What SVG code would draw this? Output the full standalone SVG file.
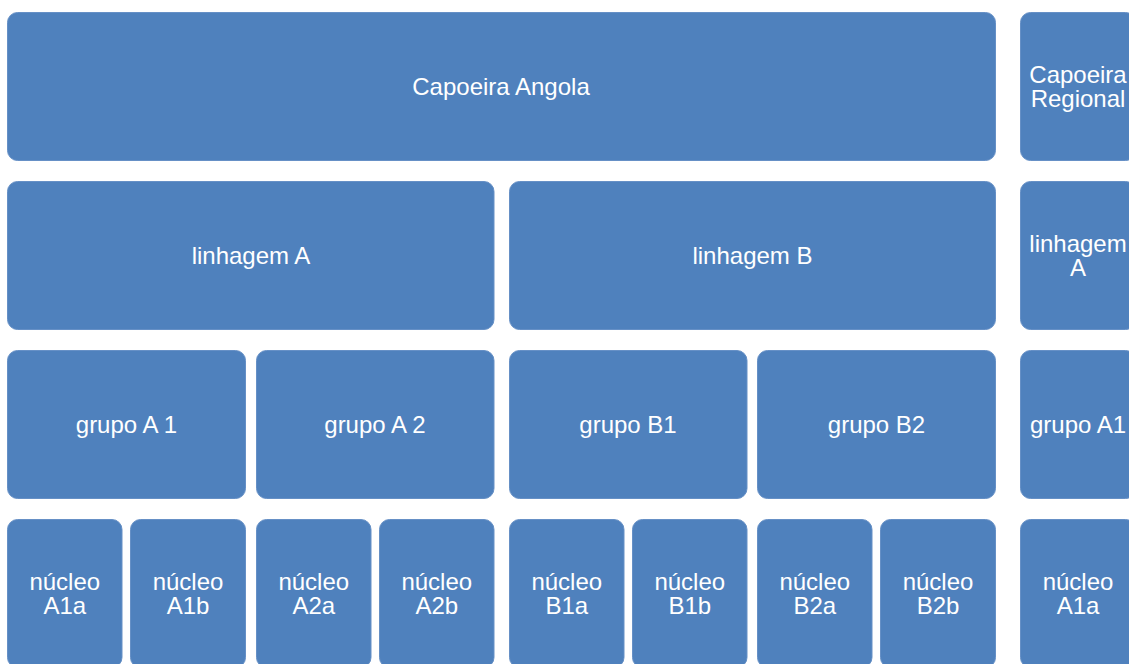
<svg xmlns="http://www.w3.org/2000/svg" width="1129" height="664" viewBox="0 0 1129 664">
<style>
.b{fill:#4F81BD;stroke:#6690C6;stroke-width:1}
.t{font-family:"Liberation Sans",Arial,sans-serif;font-size:24px;fill:#FFFFFF;text-anchor:middle}
</style>
<rect width="1129" height="664" fill="#FFFFFF"/>
<g id="connectors"></g>
<g id="capoeira-angola"><rect class="b" x="7.5" y="12.5" width="988" height="148" rx="10"/><text class="t" x="501" y="95">Capoeira Angola</text></g>
<g id="capoeira-regional"><rect class="b" x="1020.5" y="12.5" width="115" height="148" rx="10"/><text class="t" x="1078" y="83">Capoeira</text><text class="t" x="1078" y="107">Regional</text></g>
<g id="linhagem-a"><rect class="b" x="7.5" y="181.5" width="486.5" height="148" rx="10"/><text class="t" x="251" y="264">linhagem A</text></g>
<g id="linhagem-b"><rect class="b" x="509.5" y="181.5" width="486" height="148" rx="10"/><text class="t" x="752.5" y="264">linhagem B</text></g>
<g id="linhagem-a-r"><rect class="b" x="1020.5" y="181.5" width="115" height="148" rx="10"/><text class="t" x="1078" y="252">linhagem</text><text class="t" x="1078" y="276">A</text></g>
<g id="grupo-a1"><rect class="b" x="7.5" y="350.5" width="238" height="148" rx="10"/><text class="t" x="126.5" y="433">grupo A 1</text></g>
<g id="grupo-a2"><rect class="b" x="256.5" y="350.5" width="237.5" height="148" rx="10"/><text class="t" x="375" y="433">grupo A 2</text></g>
<g id="grupo-b1"><rect class="b" x="509.5" y="350.5" width="237.5" height="148" rx="10"/><text class="t" x="628" y="433">grupo B1</text></g>
<g id="grupo-b2"><rect class="b" x="757.5" y="350.5" width="238" height="148" rx="10"/><text class="t" x="876.5" y="433">grupo B2</text></g>
<g id="grupo-a1-r"><rect class="b" x="1020.5" y="350.5" width="115" height="148" rx="10"/><text class="t" x="1078" y="433">grupo A1</text></g>
<g id="nucleo-a1a"><rect class="b" x="7.5" y="519.5" width="114.5" height="148" rx="10"/><text class="t" x="64.75" y="590">núcleo</text><text class="t" x="64.75" y="614">A1a</text></g>
<g id="nucleo-a1b"><rect class="b" x="130.5" y="519.5" width="115" height="148" rx="10"/><text class="t" x="188" y="590">núcleo</text><text class="t" x="188" y="614">A1b</text></g>
<g id="nucleo-a2a"><rect class="b" x="256.5" y="519.5" width="114.5" height="148" rx="10"/><text class="t" x="313.75" y="590">núcleo</text><text class="t" x="313.75" y="614">A2a</text></g>
<g id="nucleo-a2b"><rect class="b" x="379.5" y="519.5" width="114.5" height="148" rx="10"/><text class="t" x="436.75" y="590">núcleo</text><text class="t" x="436.75" y="614">A2b</text></g>
<g id="nucleo-b1a"><rect class="b" x="509.5" y="519.5" width="114.5" height="148" rx="10"/><text class="t" x="566.75" y="590">núcleo</text><text class="t" x="566.75" y="614">B1a</text></g>
<g id="nucleo-b1b"><rect class="b" x="632.5" y="519.5" width="114.5" height="148" rx="10"/><text class="t" x="689.75" y="590">núcleo</text><text class="t" x="689.75" y="614">B1b</text></g>
<g id="nucleo-b2a"><rect class="b" x="757.5" y="519.5" width="114.5" height="148" rx="10"/><text class="t" x="814.75" y="590">núcleo</text><text class="t" x="814.75" y="614">B2a</text></g>
<g id="nucleo-b2b"><rect class="b" x="880.5" y="519.5" width="115" height="148" rx="10"/><text class="t" x="938" y="590">núcleo</text><text class="t" x="938" y="614">B2b</text></g>
<g id="nucleo-a1a-r"><rect class="b" x="1020.5" y="519.5" width="115" height="148" rx="10"/><text class="t" x="1078" y="590">núcleo</text><text class="t" x="1078" y="614">A1a</text></g>
</svg>
